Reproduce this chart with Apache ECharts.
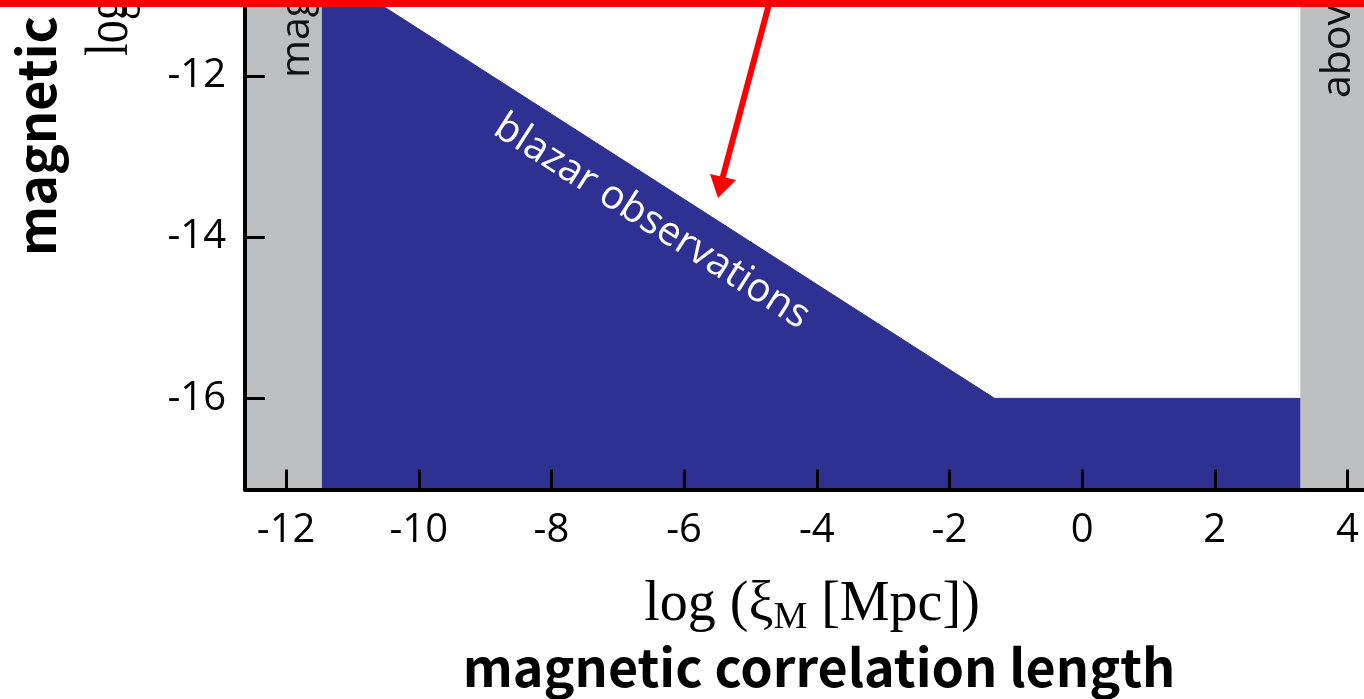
<!DOCTYPE html>
<html>
<head>
<meta charset="utf-8">
<script src="https://cdn.jsdelivr.net/npm/echarts@6/dist/echarts.min.js"></script>
<style>
  html, body { margin: 0; padding: 0; background: #fff; }
  #chart { width: 1364px; height: 699px; }
</style>
</head>
<body>
<div id="chart"></div>
<script>
// Tick positions: log10 of correlation length [Mpc] and log10 of field strength
const xTicks = [-12, -10, -8, -6, -4, -2, 0, 2, 4];
const yTicks = [-16, -14, -12];
const xRange = [-12.62, 4.25];
const yRange = [-17.13, -11.06];

// Lower bound on the field from blazar observations: [log xi, log B]
const blazarBound = [[-11.46, -10.65], [-1.32, -16], [3.29, -16]];

// Correlation-length ranges outside the allowed window
const excludedLow = [-12.62, -11.46];
const excludedHigh = [3.29, 4.25];

const BLUE = '#2e3192';
const GRAY = '#bdbec0';
const TICK_FONT = '"Open Sans", "Noto Sans", sans-serif';

const chart = echarts.init(document.getElementById('chart'), null, { renderer: 'canvas' });

const axisCommon = {
  type: 'value',
  z: 10,
  axisLine: { show: true, onZero: false, lineStyle: { color: '#000', width: 4 } },
  splitLine: { show: false },
  axisTick: { show: true, inside: true, length: 20, lineStyle: { color: '#000', width: 3 } },
  axisLabel: { color: '#000', fontSize: 40, fontFamily: TICK_FONT, lineHeight: 40 }
};

chart.setOption({
  animation: false,
  grid: { left: 245, right: 0, top: 0, bottom: 209.5, containLabel: false },
  xAxis: Object.assign({}, axisCommon, {
    min: xRange[0], max: xRange[1],
    axisTick: Object.assign({}, axisCommon.axisTick, { customValues: xTicks }),
    axisLabel: Object.assign({}, axisCommon.axisLabel, { customValues: xTicks, margin: 21 })
  }),
  yAxis: Object.assign({}, axisCommon, {
    min: yRange[0], max: yRange[1],
    axisTick: Object.assign({}, axisCommon.axisTick, { customValues: yTicks }),
    axisLabel: Object.assign({}, axisCommon.axisLabel, { customValues: yTicks, margin: 19 })
  }),
  series: [{
    type: 'line',
    data: blazarBound,
    symbol: 'none',
    silent: true,
    clip: true,
    lineStyle: { color: BLUE, width: 1 },
    areaStyle: { color: BLUE, opacity: 1, origin: 'start' },
    markArea: {
      silent: true,
      itemStyle: { color: GRAY },
      data: [
        [{ xAxis: excludedLow[0] }, { xAxis: excludedLow[1] }],
        [{ xAxis: excludedHigh[0] }, { xAxis: excludedHigh[1] }]
      ]
    }
  }]
});

// Annotation along the sloped edge of the allowed region
const labelAt = chart.convertToPixel({ gridIndex: 0 }, [-6.49, -13.81]);

chart.setOption({
  graphic: [
    // band labels inside the grey strips
    { type: 'text', x: 297, y: 78, rotation: Math.PI / 2, z: 20,
      style: { text: 'mag', font: '41px "Open Sans", sans-serif', fill: '#111', align: 'left', verticalAlign: 'middle' } },
    { type: 'text', x: 1338, y: 98, rotation: Math.PI / 2, z: 20,
      style: { text: 'abov', font: '41px "Open Sans", sans-serif', fill: '#111', align: 'left', verticalAlign: 'middle' } },
    // blazar label
    { type: 'text', x: labelAt[0], y: labelAt[1], rotation: -0.567, z: 20,
      style: { text: 'blazar observations', font: '40px "Open Sans", sans-serif', fill: '#fff', align: 'center', verticalAlign: 'middle' } },
    // y axis titles
    { type: 'text', x: 36, y: 256, rotation: Math.PI / 2, z: 20,
      style: { text: 'magnetic', font: 'bold 52px "Noto Sans CJK SC", sans-serif', fill: '#000', align: 'left', verticalAlign: 'middle' } },
    { type: 'text', x: 111, y: 56, rotation: Math.PI / 2, scaleY: 1.35, z: 20,
      style: { text: 'log', font: '46px "Liberation Serif", serif', fill: '#000', align: 'left', verticalAlign: 'middle' } },
    // x axis titles
    { type: 'text', x: 812, y: 607, z: 20,
      style: {
        text: '{a|log (ξ}{s|M}{a| [Mpc])}',
        align: 'center', verticalAlign: 'middle',
        rich: {
          a: { font: '56px "Liberation Serif", serif', fill: '#000', verticalAlign: 'bottom', padding: [0, 0, 4, 0] },
          s: { font: '38px "Liberation Serif", serif', fill: '#000', verticalAlign: 'bottom' }
        }
      } },
    { type: 'text', x: 819, y: 667, z: 20,
      style: { text: 'magnetic correlation length', font: 'bold 52px "Noto Sans CJK SC", sans-serif', fill: '#000', align: 'center', verticalAlign: 'middle' } },
    // red pointer
    { type: 'rect', z: 30, shape: { x: 0, y: 0, width: 1364, height: 7 }, style: { fill: '#ff0000' } },
    { type: 'line', z: 30, shape: { x1: 769, y1: 4, x2: 722, y2: 180 }, style: { stroke: '#ff0000', lineWidth: 6 } },
    { type: 'polygon', z: 30, shape: { points: [[718, 198], [710, 174], [736, 180]] }, style: { fill: '#ff0000' } }
  ]
});
</script>
</body>
</html>
